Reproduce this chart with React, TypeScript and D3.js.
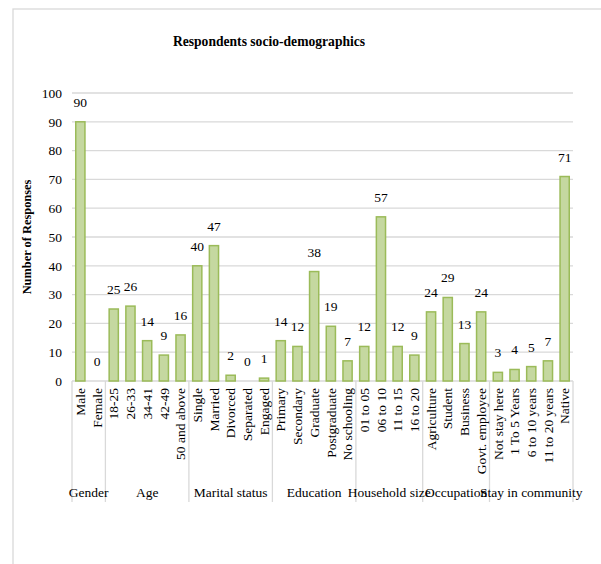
import React from "react";
import * as d3 from "d3";

const groups = ["Gender", "Age", "Marital status", "Education", "Household size", "Occupation", "Stay in community"];
const groupSizes = [2, 5, 5, 5, 4, 4, 5];
const categories = [
  "Male", "Female",
  "18-25", "26-33", "34-41", "42-49", "50 and above",
  "Single", "Married", "Divorced", "Separated", "Engaged",
  "Primary", "Secondary", "Graduate", "Postgraduate", "No schooling",
  "01 to 05", "06 to 10", "11 to 15", "16 to 20",
  "Agriculture", "Student", "Business", "Govt. employee",
  "Not stay here", "1 To 5 Years", "6 to 10 years", "11 to 20 years", "Native",
];
const values = [
  90, 0,
  25, 26, 14, 9, 16,
  40, 47, 2, 0, 1,
  14, 12, 38, 19, 7,
  12, 57, 12, 9,
  24, 29, 13, 24,
  3, 4, 5, 7, 71,
];
const yTicks = [0, 10, 20, 30, 40, 50, 60, 70, 80, 90, 100];

const W = 601;
const H = 564;
const left = 72;
const right = 573;
const top = 93;
const bottom = 381;
const font = "'Liberation Serif', 'Times New Roman', serif";
const grid = "#d9d9d9";
const fs = 13.5;

export default function App() {
  const x = d3.scaleBand<number>().domain(d3.range(categories.length)).range([left, right]).paddingInner(0.45).paddingOuter(0.225);
  const step = x.step();
  const y = d3.scaleLinear().domain([0, 100]).range([bottom, top]);
  const bounds = [0, ...d3.cumsum(groupSizes)];
  const edge = (i: number) => left + i * step;

  return (
    <svg width={W} height={H} style={{ position: "absolute", left: 0, top: 0, background: "#fff" }}>
      <rect x={13} y={9} width={W} height={H} fill="#fff" stroke={grid} strokeWidth={1.3} />
      <text x={269} y={46} textAnchor="middle" fontFamily={font} fontSize={13.6} fontWeight="bold" fill="#000">
        Respondents socio-demographics
      </text>
      <text transform={`translate(31,${(top + bottom) / 2}) rotate(-90)`} textAnchor="middle" fontFamily={font} fontSize={12.4} fontWeight="bold" fill="#000">
        Number of Responses
      </text>
      {yTicks.map((t) => (
        <g key={t}>
          <line x1={left} x2={right} y1={y(t)} y2={y(t)} stroke={grid} strokeWidth={1.3} />
          <text x={62} y={y(t)} dy="0.35em" textAnchor="end" fontFamily={font} fontSize={fs} fill="#000">{t}</text>
        </g>
      ))}
      {bounds.map((b, i) => (
        <line key={i} x1={edge(b)} x2={edge(b)} y1={bottom} y2={502} stroke={grid} strokeWidth={1.3} />
      ))}
      {values.map((v, i) => (
        <g key={i}>
          <rect x={x(i)} y={y(v)} width={x.bandwidth()} height={bottom - y(v)} fill="#c5d8a0" stroke="#9bbb59" strokeWidth={1.5} />
          <text x={(x(i) as number) + x.bandwidth() / 2} y={y(v) - 15} textAnchor="middle" fontFamily={font} fontSize={fs} fill="#000">{v}</text>
          <text transform={`translate(${(x(i) as number) + x.bandwidth() / 2},388) rotate(-90)`} dy="0.35em" textAnchor="end" fontFamily={font} fontSize={fs} fill="#000">
            {categories[i]}
          </text>
        </g>
      ))}
      {groups.map((g, i) => (
        <text key={g} x={(edge(bounds[i]) + edge(bounds[i + 1])) / 2} y={497} textAnchor="middle" fontFamily={font} fontSize={fs} fill="#000">{g}</text>
      ))}
    </svg>
  );
}
